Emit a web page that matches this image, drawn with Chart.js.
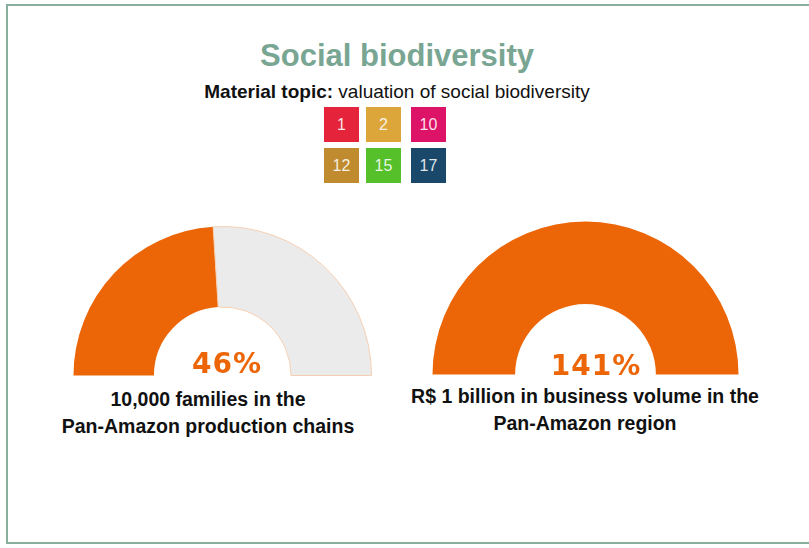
<!DOCTYPE html>
<html>
<head>
<meta charset="utf-8">
<script src="https://cdn.jsdelivr.net/npm/chart.js@4.4.0/dist/chart.umd.min.js"></script>
<style>
  html, body { margin: 0; padding: 0; background: #fff; }
  body { width: 809px; height: 548px; position: relative; overflow: hidden; font-family: "Liberation Sans", Arial, sans-serif; }
  #frame { position: absolute; left: 6px; top: 4px; width: 900px; height: 540px; box-sizing: border-box;
           border-left: 2px solid #88ae9d; border-top: 2px solid #88ae9d; border-bottom: 2px solid #88ae9d; }
  .abs { position: absolute; }
  #title { left: 0; width: 794px; top: 40px; text-align: center; font-size: 31px; line-height: 31px; font-weight: bold; color: #79a593; }
  #subtitle { left: 0; width: 794px; top: 82px; text-align: center; font-size: 19px; line-height: 19px; color: #111; }
  .sdg { width: 35px; height: 35px; color: rgba(255,255,255,0.88); font-size: 16px; line-height: 35px; text-align: center; }
  .pct { width: 200px; text-align: center; font-family: "DejaVu Sans", sans-serif; font-weight: bold; font-size: 28px; line-height: 28px; letter-spacing: 1px; color: #ec6608; z-index: 2; }
  .caption { width: 400px; text-align: center; font-weight: bold; font-size: 19.5px; line-height: 27px; color: #111; }
</style>
</head>
<body>
<div id="frame"></div>
<div id="title" class="abs">Social biodiversity</div>
<div id="subtitle" class="abs"><b>Material topic:</b> valuation of social biodiversity</div>
<div id="sdgs"></div>
<canvas id="gauge0" class="abs" style="left:73px; top:226px;"></canvas>
<canvas id="gauge1" class="abs" style="left:432px; top:221px;"></canvas>
<div id="texts"></div>
<script>
// SDG badges
var sdgNumbers = [1, 2, 10, 12, 15, 17];
var sdgColors = ['#e5243b', '#dda63a', '#dd1367', '#bf8b2e', '#56c02b', '#19486a'];

// gauges
var gaugeValues = [46, 141];          // percent shown in the middle
var gaugeArc = [48, 100];             // share of the half ring filled, as drawn
var gaugeCaptions = [
  ['10,000 families in the', 'Pan-Amazon production chains'],
  ['R$ 1 billion in business volume in the', 'Pan-Amazon region']
];

const COLOR_DONE = '#ec6608';
const COLOR_REST = '#ebebeb';

var sdgBox = document.getElementById('sdgs');
var sdgX = [324, 366, 411];
var sdgY = [107, 148];
sdgNumbers.forEach((n, i) => {
  var d = document.createElement('div');
  d.className = 'abs sdg';
  d.style.left = sdgX[i % 3] + 'px';
  d.style.top = sdgY[Math.floor(i / 3)] + 'px';
  d.style.background = sdgColors[i];
  d.textContent = n;
  sdgBox.appendChild(d);
});

var canvasSizes = [[299, 150], [307, 154]];
var pctCenters = [[227, 350], [596, 352]];
var captionSpots = [[208, 386], [585, 383]];
var texts = document.getElementById('texts');

gaugeValues.forEach((v, i) => {
  var cv = document.getElementById('gauge' + i);
  cv.width = canvasSizes[i][0];
  cv.height = canvasSizes[i][1];
  cv.style.width = canvasSizes[i][0] + 'px';
  cv.style.height = canvasSizes[i][1] + 'px';
  var filled = Math.min(gaugeArc[i], 100);
  new Chart(cv, {
    type: 'doughnut',
    data: {
      labels: ['Achieved', 'Remaining'],
      datasets: [{
        data: [filled, 100 - filled],
        backgroundColor: [COLOR_DONE, COLOR_REST],
        borderColor: [COLOR_DONE, '#f6cfb2'],
        borderWidth: [0, 1]
      }]
    },
    options: {
      responsive: false,
      animation: false,
      rotation: -90,
      circumference: 180,
      cutout: '46%',
      plugins: { legend: { display: false }, tooltip: { enabled: false } }
    }
  });

  var p = document.createElement('div');
  p.className = 'abs pct';
  p.style.left = (pctCenters[i][0] - 100) + 'px';
  p.style.top = pctCenters[i][1] + 'px';
  p.textContent = v + '%';
  texts.appendChild(p);

  var c = document.createElement('div');
  c.className = 'abs caption';
  c.style.left = (captionSpots[i][0] - 200) + 'px';
  c.style.top = captionSpots[i][1] + 'px';
  c.innerHTML = gaugeCaptions[i].join('<br>');
  texts.appendChild(c);
});
</script>
</body>
</html>
